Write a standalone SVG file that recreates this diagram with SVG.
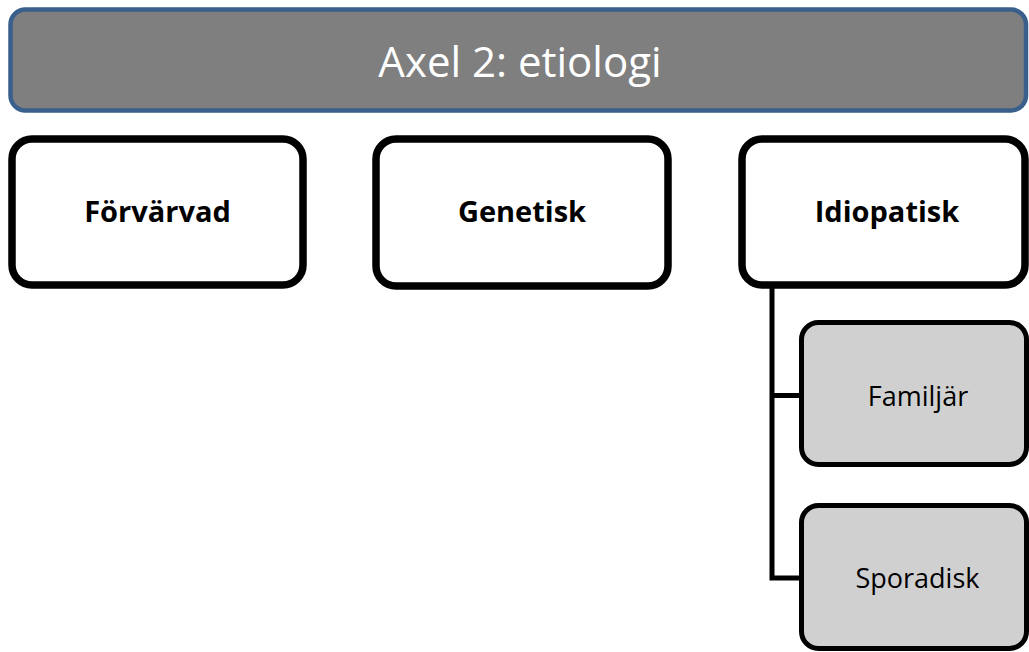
<svg xmlns="http://www.w3.org/2000/svg" width="1029" height="652" viewBox="0 0 1029 652">
<style>
.hdr{fill:#7f7f7f;stroke:#3a5f8b;stroke-width:4.5}
.main{fill:#ffffff;stroke:#000000;stroke-width:7.5}
.sub{fill:#d0d0d0;stroke:#000000;stroke-width:5}
.conn{fill:none;stroke:#000000;stroke-width:5}
text{font-family:"Open Sans","Liberation Sans",sans-serif;text-anchor:middle}
.ht{font-size:42px;fill:#ffffff}
.mt{font-size:29px;font-weight:bold;fill:#000000}
.st{font-size:27px;fill:#000000}
</style>
<rect width="1029" height="652" fill="#ffffff"/>
<g id="header">
<rect class="hdr" x="10.5" y="9.5" width="1015.5" height="101" rx="15"/>
<text class="ht" x="520" y="77">Axel 2: etiologi</text>
</g>
<g id="connectors">
<path class="conn" d="M772 287 V578 H801"/>
<path class="conn" d="M772 395.5 H801"/>
</g>
<g id="forvarvad">
<rect class="main" x="12" y="139" width="291" height="146" rx="20"/>
<text class="mt" x="157.5" y="222">Förvärvad</text>
</g>
<g id="genetisk">
<rect class="main" x="376" y="139" width="292" height="147" rx="20"/>
<text class="mt" x="522" y="222">Genetisk</text>
</g>
<g id="idiopatisk">
<rect class="main" x="742" y="139" width="283" height="146" rx="20"/>
<text class="mt" x="887" y="222">Idiopatisk</text>
</g>
<g id="familjar">
<rect class="sub" x="801.5" y="322.5" width="225" height="142" rx="17"/>
<text class="st" x="918" y="406">Familjär</text>
</g>
<g id="sporadisk">
<rect class="sub" x="801.5" y="505.5" width="225" height="143" rx="17"/>
<text class="st" x="917.5" y="588">Sporadisk</text>
</g>
</svg>
